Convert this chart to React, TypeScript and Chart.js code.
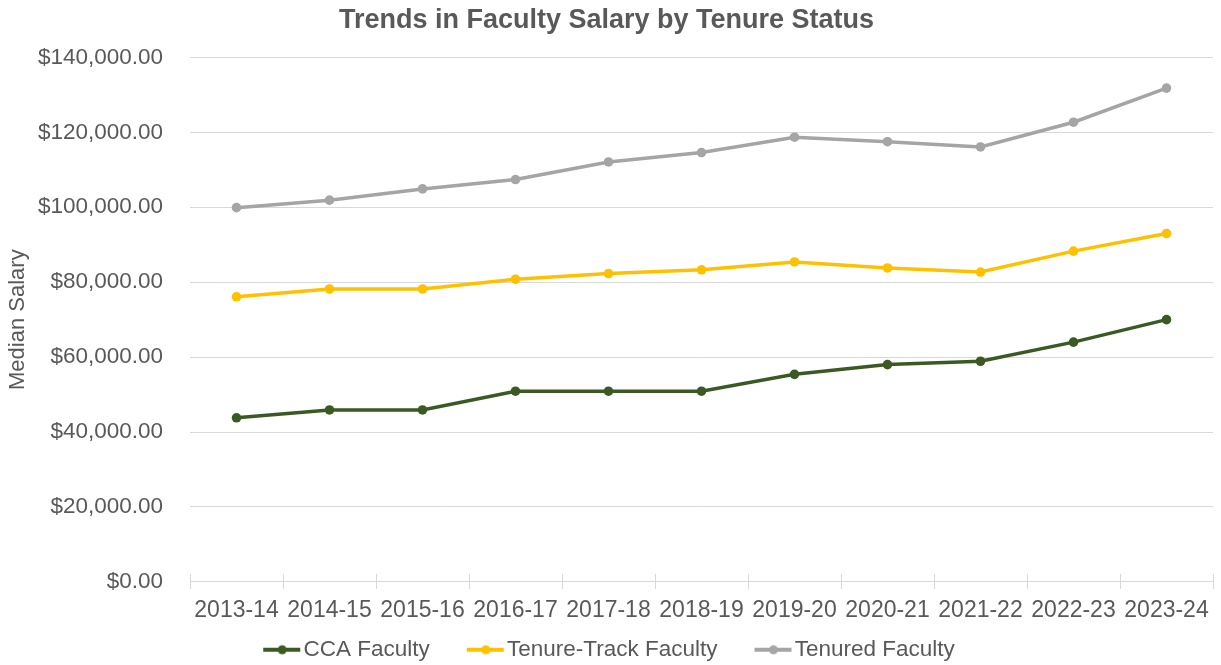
import React, { useEffect, useRef } from "react";
import { Chart, registerables } from "chart.js";

Chart.register(...registerables);

const categories = ["2013-14", "2014-15", "2015-16", "2016-17", "2017-18", "2018-19", "2019-20", "2020-21", "2021-22", "2022-23", "2023-24"];
const ccaFaculty = [43800, 45900, 45900, 50900, 50900, 50900, 55400, 58000, 58900, 64000, 70000];
const tenureTrackFaculty = [76100, 78200, 78200, 80800, 82300, 83300, 85400, 83800, 82700, 88300, 93000];
const tenuredFaculty = [99900, 101900, 104900, 107400, 112100, 114600, 118700, 117500, 116100, 122700, 131800];
const seriesNames = ["CCA Faculty", "Tenure-Track Faculty", "Tenured Faculty"];
const seriesColors = ["#3B5A23", "#FFC000", "#A5A5A5"];
const yMin = 0;
const yMax = 140000;
const yStep = 20000;

const TEXT = "#595959";
const GRID = "#D9D9D9";
const FONT = "Arial, 'Liberation Sans', sans-serif";

const BOX = 60;

function legendImage(color: string): HTMLCanvasElement {
  const w = BOX + 18;
  const c = document.createElement("canvas");
  c.width = w;
  c.height = 12;
  const ctx = c.getContext("2d")!;
  ctx.strokeStyle = color;
  ctx.lineWidth = 4;
  ctx.beginPath();
  ctx.moveTo(w - 38, 6);
  ctx.lineTo(w - 1, 6);
  ctx.stroke();
  ctx.fillStyle = color;
  ctx.beginPath();
  ctx.arc(w - 19, 6, 4.5, 0, Math.PI * 2);
  ctx.fill();
  return c;
}

const crossTicks = {
  id: "crossTicks",
  afterLayout(chart: any) {
    if (chart.legend) {
      chart.legend.left -= 13;
      chart.legend.right -= 13;
    }
  },
  beforeDatasetsDraw(chart: any) {
    const x = chart.scales.x;
    const ctx = chart.ctx;
    const n = chart.data.labels.length;
    const half = (x.getPixelForValue(1) - x.getPixelForValue(0)) / 2;
    ctx.save();
    ctx.strokeStyle = GRID;
    ctx.lineWidth = 1;
    for (let i = 0; i <= n; i++) {
      const px = Math.round(x.getPixelForValue(i) - half) + 0.5;
      ctx.beginPath();
      ctx.moveTo(px, x.top - 8);
      ctx.lineTo(px, x.top);
      ctx.stroke();
    }
    ctx.restore();
  },
};

export default function App() {
  const ref = useRef<HTMLCanvasElement | null>(null);
  useEffect(() => {
    if (!ref.current) return;
    const seriesData = [ccaFaculty, tenureTrackFaculty, tenuredFaculty];
    const chart = new Chart(ref.current, {
      type: "line",
      data: {
        labels: categories,
        datasets: seriesData.map((d, i) => ({
          label: seriesNames[i],
          data: d,
          borderColor: seriesColors[i],
          backgroundColor: seriesColors[i],
          borderWidth: 3.5,
          pointRadius: 4.8,
          pointBorderWidth: 0,
          pointStyle: "circle",
          tension: 0,
        })) as any,
      },
      plugins: [crossTicks],
      options: {
        animation: false,
        responsive: true,
        maintainAspectRatio: false,
        layout: { padding: { top: 4, right: 8, bottom: -6, left: 0 } },
        plugins: {
          title: {
            display: true,
            text: "Trends in Faculty Salary by Tenure Status",
            color: TEXT,
            font: { family: FONT, size: 27, weight: "bold" },
            padding: { top: 0, bottom: 21 },
          },
          legend: {
            position: "bottom",
            labels: {
              color: TEXT,
              font: { family: FONT, size: 22.5 },
              usePointStyle: true,
              pointStyleWidth: BOX,
              padding: 6,
              generateLabels: (ch: any) =>
                ch.data.datasets.map((ds: any, i: number) => ({
                  text: ds.label,
                  fillStyle: seriesColors[i],
                  strokeStyle: seriesColors[i],
                  lineWidth: 0,
                  pointStyle: legendImage(seriesColors[i]),
                  fontColor: TEXT,
                  datasetIndex: i,
                  hidden: false,
                })),
            },
          },
          tooltip: { enabled: false },
        },
        scales: {
          x: {
            offset: true,
            grid: {
              display: true,
              drawOnChartArea: false,
              offset: true,
              tickLength: 7,
              color: GRID,
            },
            border: { display: true, color: GRID, width: 1 },
            ticks: {
              color: TEXT,
              font: { family: FONT, size: 23 },
              padding: 8,
              maxRotation: 0,
              autoSkip: false,
            },
          },
          y: {
            min: yMin,
            max: yMax,
            title: {
              display: true,
              text: "Median Salary",
              color: TEXT,
              font: { family: FONT, size: 22 },
              padding: { top: 5, bottom: 0 },
            },
            grid: { color: GRID, drawTicks: false },
            border: { display: false },
            ticks: {
              stepSize: yStep,
              color: TEXT,
              padding: 27,
              font: { family: FONT, size: 22.5 },
              callback: (v: any) =>
                Number(v).toLocaleString("en-US", { style: "currency", currency: "USD" }),
            },
            afterFit: (s: any) => {
              s.width = 190;
            },
          },
        },
      },
    });
    return () => chart.destroy();
  }, []);
  return (
    <div style={{ position: "absolute", left: 0, top: 0, width: 1221, height: 665 }}>
      <canvas ref={ref} />
    </div>
  );
}
